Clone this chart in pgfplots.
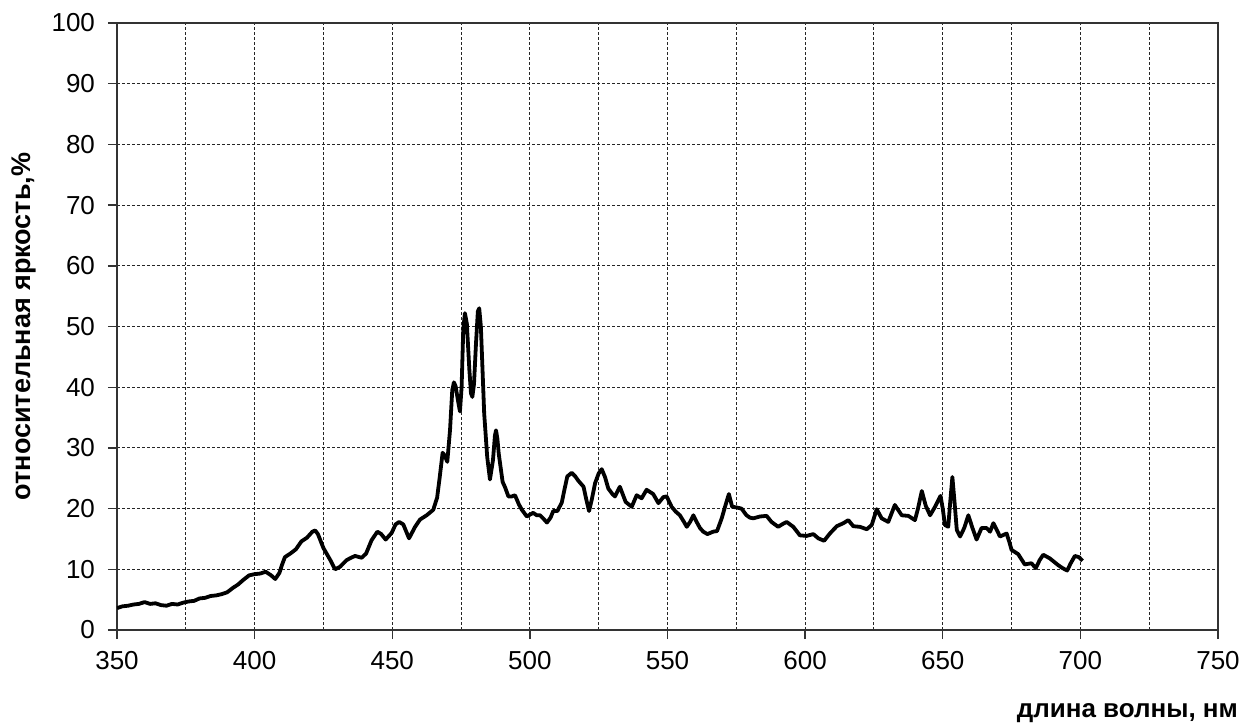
\documentclass[border=0pt]{standalone}
\usepackage{fontspec}
\setmainfont{Liberation Sans}
\usepackage{pgfplots}
\pgfplotsset{compat=1.18}

\begin{document}
\begin{tikzpicture}
\useasboundingbox (-58.5pt,-47pt) rectangle (568.5pt,315pt);
\begin{axis}[
  scale only axis,
  width=550.5pt, height=303.5pt,
  at={(0,0)}, anchor=south west,
  xmin=350, xmax=750, ymin=0, ymax=100,
  xtick={350,400,...,750},
  minor xtick={375,425,...,725},
  ytick={0,10,...,100},
  xmajorgrids, xminorgrids, ymajorgrids,
  grid style={black!85, line width=0.5pt, dash pattern=on 1.5pt off 1pt},
  minor grid style={black!85, line width=0.5pt, dash pattern=on 1.5pt off 1pt},
  axis line style={black!80, line width=0.7pt},
  tick align=outside,
  major tick length=4.5pt,
  minor tick length=0pt,
  tick style={black!80, line width=0.7pt},
  xtick pos=bottom, ytick pos=left,
  /pgf/number format/assume math mode=true,
  /pgf/number format/set thousands separator={},
  ticklabel style={font=\fontsize{13}{15}\selectfont},
  xticklabel style={yshift=-2.5pt},
  yticklabel style={xshift=-3pt},
  xlabel={длина волны, нм},
  ylabel={относительная яркость,\%},
  xlabel style={at={(axis description cs:1.0245,-0.1435)}, anchor=base east,
    font=\bfseries\fontsize{13}{15}\selectfont},
  ylabel style={at={(axis description cs:-0.0790,0.5)}, anchor=base,
    font=\bfseries\fontsize{13.5}{15}\selectfont},
]
\addplot[black, line width=1.9pt, line join=round] coordinates {
(350,3.6) (352,3.9) (354,4.0) (356,4.2) (358,4.3) (360,4.6) (362,4.3)
(364,4.4) (366,4.1) (368,4.0) (370,4.3) (372,4.2) (374,4.5) (376,4.7)
(378,4.8) (380,5.2) (382,5.3) (384,5.6) (386,5.7) (388,5.9) (390,6.2)
(392,6.9) (394,7.5) (396,8.3) (398,9.0) (400,9.2) (402,9.3) (404,9.6)
(406,9.0) (407.5,8.4) (409,9.4) (410,10.8) (411,12.0) (413,12.6)
(415,13.3) (417,14.6) (419,15.2) (421,16.2) (422,16.4) (423,15.8)
(425,13.5) (427.4,11.6) (429.2,10.0) (431,10.4) (433.4,11.5) (435,11.9)
(436.5,12.2) (438.9,11.9) (440.5,12.6) (442.5,14.8) (444.6,16.2)
(446,15.8) (447.6,14.9) (449.8,16.0) (451.2,17.4) (452.5,17.8)
(454,17.4) (456.1,15.1) (458.3,17.0) (460.1,18.2) (462.5,18.9)
(464.9,19.8) (466.3,21.8) (467.2,25.0) (468.3,29.2) (469,28.8)
(470,27.7) (471,33.0) (471.8,39.5) (472.4,40.8) (473,40.2) (474,37.5)
(474.6,36.0) (475.2,40.0) (475.8,49.5) (476.4,52.2) (477.1,50.5)
(478,43.0) (478.6,39.0) (479.1,38.4) (479.7,40.5) (480.4,47.0)
(481.1,52.5) (481.6,53.0) (482.2,50.0) (483.4,35.7) (484.5,28.5)
(485.5,24.8) (486.6,28.0) (487.3,32.0) (487.7,32.9) (488.2,31.5)
(488.7,29.0) (490.1,24.4) (491,23.5) (492.2,22.0) (493.4,22.0)
(494.6,22.2) (496,20.7) (497.1,19.8) (498.9,18.7) (500,19.0)
(501.2,19.3) (502.5,18.9) (503.7,18.9) (505,18.3) (506.2,17.7)
(507.5,18.5) (508.5,19.6) (510,19.6) (511.6,21.0) (512.5,23.0)
(513.6,25.3) (515.2,25.9) (516.5,25.3) (517.6,24.6) (519.5,23.6)
(520.5,21.5) (521.5,19.6) (522.5,21.5) (523.7,24.2) (525,25.8)
(526.1,26.5) (527.3,25.2) (528.5,23.3) (530,22.4) (530.9,22.0)
(532.7,23.6) (534.8,21.1) (537,20.3) (538.8,22.2) (540.6,21.7)
(542.4,23.1) (544.8,22.4) (546.7,20.9) (548.5,21.9) (549.7,22.0)
(551.5,20.3) (553,19.5) (554.5,18.9) (556,17.8) (557,17.0) (558.2,17.8)
(559.4,18.9) (560.6,17.8) (561.8,16.8) (563,16.2) (564.5,15.8)
(566.6,16.2) (568,16.3) (569.7,18.4) (570.9,20.3) (572.3,22.4)
(573.5,20.3) (575,20.2) (576.9,20.0) (578.7,18.9) (580,18.5)
(581.2,18.4) (583.6,18.7) (586,18.8) (587.8,17.8) (590.2,17.0)
(592,17.5) (593.3,17.8) (595.7,17.0) (598.1,15.6) (600.5,15.5)
(603,15.8) (604.8,15.1) (606.9,14.7) (609,15.9) (611.5,17.1)
(613.9,17.6) (615.7,18.1) (617.5,17.1) (619.9,17.0) (622.4,16.6)
(624.2,17.3) (626,19.9) (627.8,18.4) (630.2,17.8) (632.6,20.6)
(635.1,18.9) (637.5,18.8) (639.9,18.1) (641,20.0) (642.4,22.9)
(643.8,20.5) (645.4,18.9) (647.2,20.3) (649.2,22.1) (650,20.0)
(650.8,17.3) (652,17.0) (652.7,21.0) (653.5,25.2) (654.3,21.0)
(655.1,16.5) (656.3,15.4) (657.8,16.8) (659.3,18.9) (660.8,16.8)
(662.3,14.9) (664.1,16.8) (665.9,16.8) (667.2,16.2) (668.4,17.6)
(669.6,16.5) (670.8,15.4) (673.2,15.9) (674.2,14.5) (675,13.2)
(677.4,12.5) (679.8,10.8) (682.2,11.0) (683.8,10.2) (685.2,11.5)
(686.5,12.4) (688.9,11.8) (691.9,10.7) (693.5,10.2) (695.2,9.8)
(696.5,11.0) (698,12.2) (699.5,12.0) (700.8,11.4)
};
\end{axis}
\end{tikzpicture}
\end{document}
